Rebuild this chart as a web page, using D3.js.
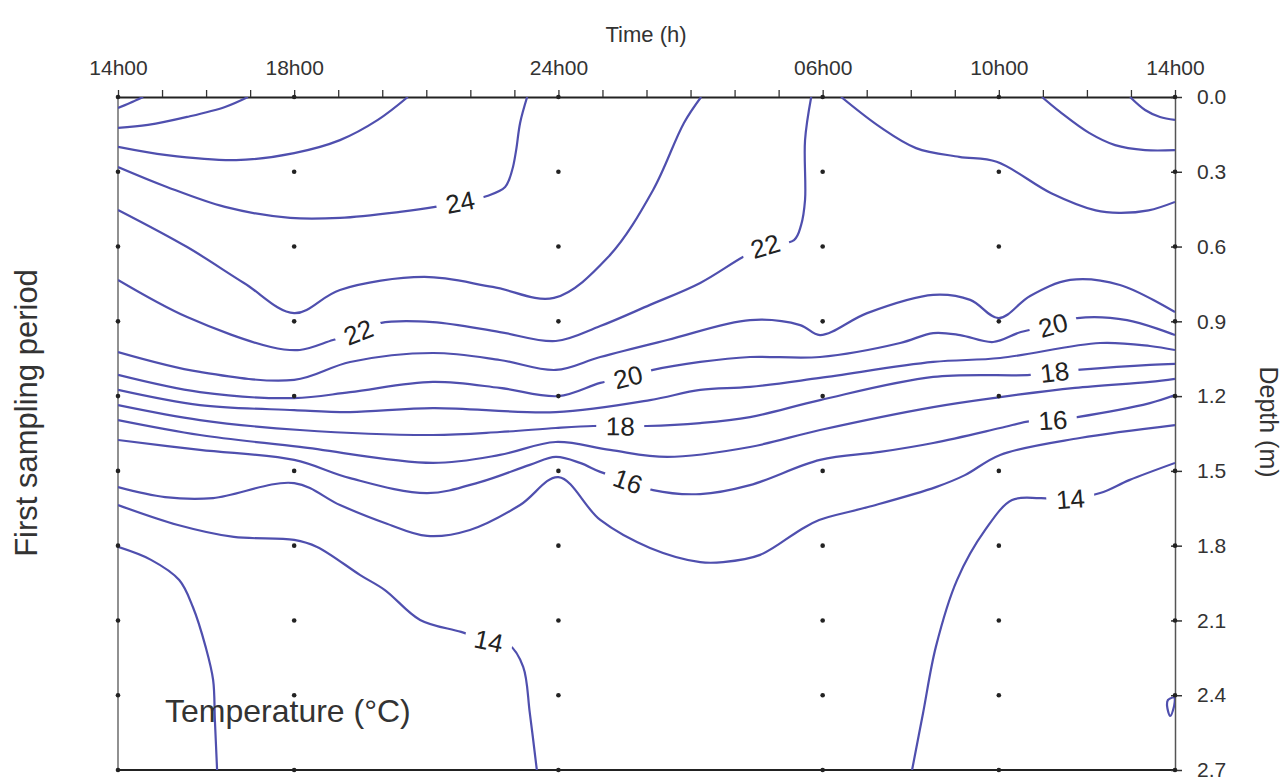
<!DOCTYPE html>
<html>
<head>
<meta charset="utf-8">
<script src="https://cdnjs.cloudflare.com/ajax/libs/d3/7.8.5/d3.min.js"></script>
<style>
body { margin: 0; background: #fff; }
text { font-family: 'Liberation Sans', Arial, Helvetica, sans-serif; }
</style>
</head>
<body>
<div id="chart"></div>
<script>
// data
var sampleHours = [0, 4, 10, 16, 20, 24];   // hours after 14h00
var timeLabels = ['14h00', '18h00', '24h00', '06h00', '10h00', '14h00'];
var hourTicks = [0, 1, 2, 3, 4, 5, 6, 7, 8, 9, 10, 11, 12, 13, 14, 15, 16, 17, 18, 19, 20, 21, 22, 23, 24];
var depths = [0, 0.3, 0.6, 0.9, 1.2, 1.5, 1.8, 2.1, 2.4, 2.7];

// isotherms, [hour, depth]
var iso27 = [[0, 0.044], [0.27, 0.024], [0.57, 0]];
var iso26 = [[0, 0.124], [0.68, 0.112], [1.57, 0.08], [2.43, 0.04], [2.95, 0]];
var iso25 = [[0, 0.2], [1.11, 0.233], [2.68, 0.253], [4.0, 0.225], [5.04, 0.173], [5.9, 0.092], [6.58, 0]];
var iso24 = [[0, 0.281], [1.11, 0.361], [2.43, 0.441], [3.91, 0.485], [5.04, 0.485], [6.4, 0.461], [7.2, 0.441],
    [7.77, 0.421], [8.38, 0.397], [8.79, 0.361], [8.95, 0.293], [9.04, 0.213], [9.13, 0.104], [9.29, 0]];
var iso23 = [[0, 0.453], [1.57, 0.602], [2.86, 0.746], [4.0, 0.867], [5.04, 0.774], [6.95, 0.722], [8.51, 0.762],
    [9.9, 0.806], [11.13, 0.642], [12.15, 0.373], [12.85, 0.104], [13.24, 0]];
var iso22 = [[0, 0.734], [1.57, 0.883], [3.47, 1.003], [4.13, 1.015], [4.88, 0.975], [5.45, 0.943], [5.95, 0.907],
    [7.15, 0.903], [8.67, 0.943], [9.94, 0.979], [10.95, 0.919], [12.08, 0.834], [13.22, 0.746], [14.19, 0.642],
    [14.7, 0.598], [15.35, 0.574], [15.51, 0.514], [15.6, 0.413], [15.6, 0.173], [15.74, 0]];
var iso22b = [[16.42, 0], [17.3, 0.12], [18.12, 0.205], [19.1, 0.24], [19.95, 0.26], [21.19, 0.386], [22.2, 0.455],
    [22.73, 0.465], [23.4, 0.455], [24, 0.421]];
var iso23b = [[20.98, 0], [21.39, 0.06], [22.05, 0.144], [22.64, 0.193], [23.32, 0.213], [24, 0.213]];
var iso24b = [[22.98, 0], [23.32, 0.052], [23.66, 0.08], [24, 0.092]];
var iso21 = [[0, 1.023], [1.86, 1.103], [4.0, 1.135], [5.27, 1.063], [7.15, 1.027], [8.67, 1.055], [9.94, 1.095],
    [10.95, 1.043], [12.47, 0.975], [14.35, 0.895], [15.49, 0.915], [15.94, 0.955], [17.01, 0.867], [18.51, 0.794],
    [19.35, 0.814], [20, 0.887], [20.71, 0.798], [21.62, 0.734], [22.75, 0.754], [24, 0.863]];
var iso20 = [[0, 1.115], [1.86, 1.184], [4.0, 1.208], [5.27, 1.184], [7.15, 1.143], [8.67, 1.167], [10, 1.2],
    [10.95, 1.147], [11.58, 1.123], [12.15, 1.095], [13.22, 1.063], [14.35, 1.043], [15.94, 1.043], [17.76, 0.987],
    [18.51, 0.947], [19.12, 0.955], [19.87, 0.983], [20.5, 0.943], [21.23, 0.915], [21.78, 0.887], [22.91, 0.895], [24, 0.955]];
var iso19 = [[0, 1.175], [1.86, 1.236], [4.0, 1.256], [5.27, 1.264], [7.15, 1.248], [9.94, 1.264], [12.08, 1.216],
    [13.22, 1.175], [14.35, 1.163], [15.94, 1.127], [18.51, 1.063], [20.03, 1.047], [22.3, 0.987], [23.43, 0.999], [24, 1.015]];
var iso18 = [[0, 1.236], [1.86, 1.296], [4.13, 1.336], [7.15, 1.356], [8.67, 1.344], [9.94, 1.328], [10.79, 1.32],
    [11.4, 1.32], [12.01, 1.32], [13.22, 1.308], [14.35, 1.284], [15.94, 1.216], [18.51, 1.123], [20.71, 1.115],
    [21.27, 1.103], [21.78, 1.095], [23.43, 1.075], [24, 1.071]];
var iso17 = [[0, 1.296], [1.86, 1.356], [4.13, 1.404], [7.15, 1.468], [8.67, 1.436], [9.94, 1.384], [11.17, 1.416],
    [12.47, 1.444], [14.35, 1.404], [15.94, 1.336], [18.51, 1.244], [20.03, 1.204], [21.73, 1.167], [23.43, 1.143], [24, 1.131]];
var iso16 = [[0, 1.376], [1.86, 1.416], [4.0, 1.456], [5.27, 1.529], [7.02, 1.589], [8.22, 1.545], [9.35, 1.476],
    [9.94, 1.444], [10.49, 1.468], [10.95, 1.504], [11.58, 1.541], [12.15, 1.577], [13.22, 1.593], [14.35, 1.557],
    [15.94, 1.456], [17.3, 1.424], [18.51, 1.388], [20.03, 1.328], [20.71, 1.3], [21.23, 1.296], [21.78, 1.284],
    [23.43, 1.228], [24, 1.196]];
var iso15 = [[0, 1.565], [1.07, 1.605], [2.16, 1.609], [4.0, 1.549], [5.04, 1.637], [6.06, 1.709], [7.02, 1.761],
    [7.99, 1.737], [9.13, 1.637], [10.0, 1.525], [10.95, 1.697], [12.08, 1.809], [13.22, 1.866], [13.74, 1.866],
    [14.58, 1.837], [15.49, 1.737], [15.92, 1.697], [17.03, 1.645], [18.57, 1.565], [19.23, 1.517], [20.03, 1.436],
    [21.84, 1.368], [24, 1.316]];
var iso14 = [[0, 1.637], [1.36, 1.717], [2.63, 1.765], [4.0, 1.777], [4.52, 1.805], [5.5, 1.918], [6.06, 1.978],
    [6.86, 2.098], [7.79, 2.146], [8.42, 2.182], [8.88, 2.198], [9.2, 2.286], [9.35, 2.471], [9.51, 2.7]];
var iso14b = [[18.03, 2.7], [18.28, 2.471], [18.57, 2.206], [19.05, 1.938], [19.69, 1.737], [20.3, 1.617],
    [20.94, 1.609], [21.57, 1.613], [22.3, 1.589], [22.96, 1.537], [24, 1.468]];
var iso13 = [[0, 1.805], [0.75, 1.857], [1.39, 1.938], [1.7, 2.046], [1.99, 2.206], [2.16, 2.339], [2.2, 2.5], [2.25, 2.7]];
var iso13b = [[24, 2.407], [23.84, 2.419], [23.82, 2.443], [23.89, 2.483], [23.98, 2.443], [24, 2.407]];

var isotherms = [iso27, iso26, iso25, iso24, iso23, iso22, iso22b, iso23b, iso24b, iso21, iso20,
    iso19, iso18, iso17, iso16, iso15, iso14, iso14b, iso13, iso13b];

// labels sit on a line at a given hour
var labelLines = [iso24, iso22, iso22, iso20, iso20, iso18, iso18, iso16, iso16, iso14, iso14b];
var labelHours = [7.77, 5.45, 14.7, 11.58, 21.23, 11.4, 21.27, 11.58, 21.23, 8.42, 21.62];
var labelTexts = ['24', '22', '22', '20', '20', '18', '18', '16', '16', '14', '14'];

// chart
var W = 1285, H = 781;
var svg = d3.select('#chart').append('svg')
    .attr('width', W)
    .attr('height', H);

var x = d3.scaleLinear().domain([0, 24]).range([118, 1175]);
var y = d3.scaleLinear().domain([0, 2.7]).range([97, 770]);

svg.append('defs').append('clipPath')
    .attr('id', 'clip')
    .append('rect')
    .attr('x', x(0)).attr('y', y(0))
    .attr('width', x(24) - x(0)).attr('height', y(2.7) - y(0));

// left and bottom frame
svg.append('line')
    .attr('x1', x(0)).attr('x2', x(0))
    .attr('y1', y(0)).attr('y2', y(2.7))
    .attr('stroke', '#555').attr('stroke-width', 1.3);
svg.append('line')
    .attr('x1', x(0)).attr('x2', x(24))
    .attr('y1', y(2.7)).attr('y2', y(2.7))
    .attr('stroke', '#222').attr('stroke-width', 2);

// top time axis
var topAxis = d3.axisTop(x)
    .tickValues(hourTicks)
    .tickSize(7)
    .tickSizeOuter(0)
    .tickPadding(15)
    .tickFormat(function (h) {
        var i = sampleHours.indexOf(h);
        return i < 0 ? '' : timeLabels[i];
    });
var gTop = svg.append('g')
    .attr('transform', 'translate(0,' + y(0) + ')')
    .call(topAxis);
gTop.select('.domain').attr('stroke', '#222').attr('stroke-width', 2);
gTop.selectAll('.tick line').attr('stroke', '#333').attr('stroke-width', 1.3);
gTop.selectAll('.tick text')
    .attr('font-size', 21)
    .attr('fill', '#333');

// right depth axis
var rightAxis = d3.axisRight(y)
    .tickValues(depths)
    .tickSize(7)
    .tickSizeOuter(0)
    .tickPadding(15)
    .tickFormat(d3.format('.1f'));
var gRight = svg.append('g')
    .attr('transform', 'translate(' + x(24) + ',0)')
    .call(rightAxis);
gRight.select('.domain').attr('stroke', '#555').attr('stroke-width', 1.5);
gRight.selectAll('.tick line').attr('x1', -4).attr('stroke', '#333').attr('stroke-width', 1.5);
gRight.selectAll('.tick text')
    .attr('font-size', 21)
    .attr('fill', '#333');

// isotherm lines
var line = d3.line()
    .x(function (d) { return x(d[0]); })
    .y(function (d) { return y(d[1]); })
    .curve(d3.curveCatmullRom.alpha(0.5));

var paths = svg.append('g')
    .attr('clip-path', 'url(#clip)')
    .selectAll('.iso')
    .data(isotherms)
    .enter()
    .append('path')
    .attr('class', 'iso')
    .attr('d', line)
    .attr('fill', 'none')
    .attr('stroke', '#4f4fae')
    .attr('stroke-width', 2.2)
    .attr('stroke-linejoin', 'round');

// sampling points
var grid = [];
sampleHours.forEach(function (h) {
    depths.forEach(function (d) { grid.push([h, d]); });
});
svg.append('g').selectAll('circle')
    .data(grid)
    .enter()
    .append('circle')
    .attr('cx', function (d) { return x(d[0]); })
    .attr('cy', function (d) { return y(d[1]); })
    .attr('r', 2.3)
    .attr('fill', '#222');

// contour labels, placed along their line
var pathNodes = paths.nodes();
labelTexts.forEach(function (txt, i) {
    var node = pathNodes[isotherms.indexOf(labelLines[i])];
    var tx = x(labelHours[i]);
    var total = node.getTotalLength();
    var best = 0, bestDist = Infinity;
    for (var l = 0; l <= total; l += 0.5) {
        var p = node.getPointAtLength(l);
        if (Math.abs(p.x - tx) < bestDist) { bestDist = Math.abs(p.x - tx); best = l; }
    }
    var c = node.getPointAtLength(best);
    var a = node.getPointAtLength(Math.max(0, best - 12));
    var b = node.getPointAtLength(Math.min(total, best + 12));
    var ang = Math.atan2(b.y - a.y, b.x - a.x) * 180 / Math.PI;
    if (ang > 90) ang -= 180;
    if (ang < -90) ang += 180;
    var g = svg.append('g')
        .attr('transform', 'translate(' + c.x + ',' + c.y + ') rotate(' + ang + ')');
    g.append('rect')
        .attr('x', -24).attr('y', -7)
        .attr('width', 48).attr('height', 14)
        .attr('fill', '#fff');
    g.append('text')
        .attr('text-anchor', 'middle')
        .attr('dy', '0.36em')
        .attr('font-size', 26)
        .attr('fill', '#222')
        .text(txt);
});

// titles
svg.append('text')
    .attr('x', 646).attr('y', 42)
    .attr('text-anchor', 'middle')
    .attr('font-size', 22)
    .attr('fill', '#333')
    .text('Time (h)');

svg.append('text')
    .attr('transform', 'translate(1260,422) rotate(90)')
    .attr('text-anchor', 'middle')
    .attr('font-size', 25)
    .attr('fill', '#333')
    .text('Depth (m)');

svg.append('text')
    .attr('transform', 'translate(37,413) rotate(-90)')
    .attr('text-anchor', 'middle')
    .attr('font-size', 31)
    .attr('fill', '#333')
    .text('First sampling period');

svg.append('text')
    .attr('x', 165).attr('y', 722)
    .attr('font-size', 32)
    .attr('fill', '#333')
    .text('Temperature (°C)');
</script>
</body>
</html>
